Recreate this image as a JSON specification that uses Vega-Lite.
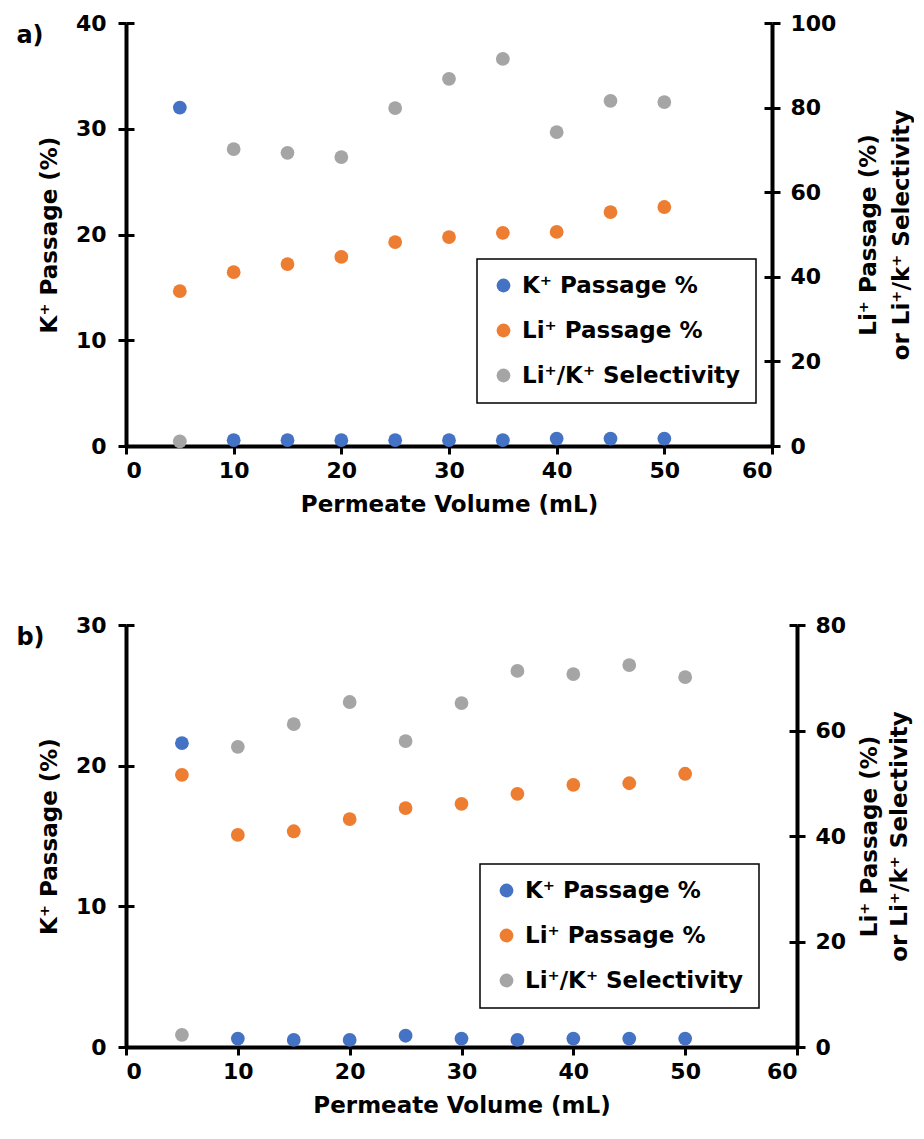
{
  "$schema": "https://vega.github.io/schema/vega-lite/v6.json",
  "background": "white",
  "padding": {"left": 16, "top": 12, "right": 0, "bottom": 5},
  "config": {
    "font": "DejaVu Sans",
    "view": {"stroke": null},
    "axis": {
      "domainColor": "black", "domainWidth": 4, "tickColor": "black", "tickWidth": 3, "tickSize": 8,
      "labelFont": "DejaVu Sans", "labelFontSize": 22, "labelFontWeight": "bold", "labelColor": "black",
      "titleFont": "DejaVu Sans", "titleFontSize": 23, "titleFontWeight": "bold", "titleColor": "black",
      "grid": false
    },
    "legend": {
      "title": null, "orient": "none", "strokeColor": "black", "strokeWidth": 1.5, "fillColor": "white",
      "padding": 15, "symbolType": "circle", "symbolSize": 190, "symbolStrokeWidth": 0, "symbolOpacity": 1,
      "labelFont": "DejaVu Sans", "labelFontSize": 23, "labelFontWeight": "bold", "labelColor": "black",
      "rowPadding": 21, "labelOffset": 7, "labelLimit": 400
    },
    "title": {"font": "DejaVu Sans", "fontSize": 24, "fontWeight": "bold", "color": "black", "anchor": "start", "frame": "bounds"}
  },
  "datasets": {
    "d": [
      {"p": "a", "s": "K⁺ Passage %", "x": 5, "v": 32.0},
      {"p": "a", "s": "K⁺ Passage %", "x": 10, "v": 0.55},
      {"p": "a", "s": "K⁺ Passage %", "x": 15, "v": 0.55},
      {"p": "a", "s": "K⁺ Passage %", "x": 20, "v": 0.55},
      {"p": "a", "s": "K⁺ Passage %", "x": 25, "v": 0.55},
      {"p": "a", "s": "K⁺ Passage %", "x": 30, "v": 0.55},
      {"p": "a", "s": "K⁺ Passage %", "x": 35, "v": 0.55},
      {"p": "a", "s": "K⁺ Passage %", "x": 40, "v": 0.7},
      {"p": "a", "s": "K⁺ Passage %", "x": 45, "v": 0.7},
      {"p": "a", "s": "K⁺ Passage %", "x": 50, "v": 0.7},
      {"p": "a", "s": "Li⁺ Passage %", "x": 5, "v": 36.6},
      {"p": "a", "s": "Li⁺ Passage %", "x": 10, "v": 41.1},
      {"p": "a", "s": "Li⁺ Passage %", "x": 15, "v": 43.0},
      {"p": "a", "s": "Li⁺ Passage %", "x": 20, "v": 44.7},
      {"p": "a", "s": "Li⁺ Passage %", "x": 25, "v": 48.2},
      {"p": "a", "s": "Li⁺ Passage %", "x": 30, "v": 49.4},
      {"p": "a", "s": "Li⁺ Passage %", "x": 35, "v": 50.4},
      {"p": "a", "s": "Li⁺ Passage %", "x": 40, "v": 50.6},
      {"p": "a", "s": "Li⁺ Passage %", "x": 45, "v": 55.3},
      {"p": "a", "s": "Li⁺ Passage %", "x": 50, "v": 56.5},
      {"p": "a", "s": "Li⁺/K⁺ Selectivity", "x": 5, "v": 1.1},
      {"p": "a", "s": "Li⁺/K⁺ Selectivity", "x": 10, "v": 70.2},
      {"p": "a", "s": "Li⁺/K⁺ Selectivity", "x": 15, "v": 69.3},
      {"p": "a", "s": "Li⁺/K⁺ Selectivity", "x": 20, "v": 68.3},
      {"p": "a", "s": "Li⁺/K⁺ Selectivity", "x": 25, "v": 79.9},
      {"p": "a", "s": "Li⁺/K⁺ Selectivity", "x": 30, "v": 86.8},
      {"p": "a", "s": "Li⁺/K⁺ Selectivity", "x": 35, "v": 91.5},
      {"p": "a", "s": "Li⁺/K⁺ Selectivity", "x": 40, "v": 74.2},
      {"p": "a", "s": "Li⁺/K⁺ Selectivity", "x": 45, "v": 81.6},
      {"p": "a", "s": "Li⁺/K⁺ Selectivity", "x": 50, "v": 81.3},
      {"p": "b", "s": "K⁺ Passage %", "x": 5, "v": 21.6},
      {"p": "b", "s": "K⁺ Passage %", "x": 10, "v": 0.6},
      {"p": "b", "s": "K⁺ Passage %", "x": 15, "v": 0.5},
      {"p": "b", "s": "K⁺ Passage %", "x": 20, "v": 0.5},
      {"p": "b", "s": "K⁺ Passage %", "x": 25, "v": 0.8},
      {"p": "b", "s": "K⁺ Passage %", "x": 30, "v": 0.6},
      {"p": "b", "s": "K⁺ Passage %", "x": 35, "v": 0.5},
      {"p": "b", "s": "K⁺ Passage %", "x": 40, "v": 0.6},
      {"p": "b", "s": "K⁺ Passage %", "x": 45, "v": 0.6},
      {"p": "b", "s": "K⁺ Passage %", "x": 50, "v": 0.6},
      {"p": "b", "s": "Li⁺ Passage %", "x": 5, "v": 51.6},
      {"p": "b", "s": "Li⁺ Passage %", "x": 10, "v": 40.2},
      {"p": "b", "s": "Li⁺ Passage %", "x": 15, "v": 40.9},
      {"p": "b", "s": "Li⁺ Passage %", "x": 20, "v": 43.2},
      {"p": "b", "s": "Li⁺ Passage %", "x": 25, "v": 45.3},
      {"p": "b", "s": "Li⁺ Passage %", "x": 30, "v": 46.1},
      {"p": "b", "s": "Li⁺ Passage %", "x": 35, "v": 48.0},
      {"p": "b", "s": "Li⁺ Passage %", "x": 40, "v": 49.7},
      {"p": "b", "s": "Li⁺ Passage %", "x": 45, "v": 50.0},
      {"p": "b", "s": "Li⁺ Passage %", "x": 50, "v": 51.8},
      {"p": "b", "s": "Li⁺/K⁺ Selectivity", "x": 5, "v": 2.3},
      {"p": "b", "s": "Li⁺/K⁺ Selectivity", "x": 10, "v": 56.9},
      {"p": "b", "s": "Li⁺/K⁺ Selectivity", "x": 15, "v": 61.2},
      {"p": "b", "s": "Li⁺/K⁺ Selectivity", "x": 20, "v": 65.4},
      {"p": "b", "s": "Li⁺/K⁺ Selectivity", "x": 25, "v": 58.0},
      {"p": "b", "s": "Li⁺/K⁺ Selectivity", "x": 30, "v": 65.2},
      {"p": "b", "s": "Li⁺/K⁺ Selectivity", "x": 35, "v": 71.3},
      {"p": "b", "s": "Li⁺/K⁺ Selectivity", "x": 40, "v": 70.7},
      {"p": "b", "s": "Li⁺/K⁺ Selectivity", "x": 45, "v": 72.4},
      {"p": "b", "s": "Li⁺/K⁺ Selectivity", "x": 50, "v": 70.1}
    ]
  },
  "spacing": 98,
  "resolve": {"scale": {"color": "independent"}, "legend": {"color": "independent"}},
  "vconcat": [
    {
      "width": 646, "height": 423,
      "title": {"text": "a)", "dx": -22, "dy": 40},
      "data": {"name": "d"},
      "transform": [{"filter": "datum.p === 'a'"}],
      "encoding": {
        "x": {"field": "x", "type": "quantitative", "scale": {"domain": [0, 60]},
              "axis": {"values": [0, 10, 20, 30, 40, 50, 60], "title": "Permeate Volume (mL)", "labelPadding": 6, "titlePadding": 12}},
        "color": {"field": "s", "type": "nominal",
                  "scale": {"domain": ["K⁺ Passage %", "Li⁺ Passage %", "Li⁺/K⁺ Selectivity"], "range": ["#4472C4", "#ED7D31", "#A5A5A5"]},
                  "legend": {"legendX": 351, "legendY": 236}}
      },
      "layer": [
        {"transform": [{"filter": "datum.s === 'K⁺ Passage %'"}],
         "mark": {"type": "circle", "size": 0, "opacity": 0},
         "encoding": {"y": {"field": "v", "type": "quantitative", "scale": {"domain": [0, 40]},
                            "axis": {"orient": "left", "values": [0, 10, 20, 30, 40], "tickSize": -8, "labels": false, "domain": false, "title": null}}}},
        {"transform": [{"filter": "datum.s !== 'K⁺ Passage %'"}],
         "mark": {"type": "circle", "size": 0, "opacity": 0},
         "encoding": {"y": {"field": "v", "type": "quantitative", "scale": {"domain": [0, 100]},
                            "axis": {"orient": "right", "values": [0, 20, 40, 60, 80, 100], "tickSize": -8, "labels": false, "domain": false, "title": null}}}},
        {"transform": [{"filter": "datum.s === 'K⁺ Passage %'"}],
         "mark": {"type": "circle", "size": 190, "opacity": 1},
         "encoding": {"y": {"field": "v", "type": "quantitative", "scale": {"domain": [0, 40]},
                            "axis": {"orient": "left", "values": [0, 10, 20, 30, 40], "title": "K⁺ Passage (%)", "labelPadding": 12, "titlePadding": 14}}}},
        {"transform": [{"filter": "datum.s !== 'K⁺ Passage %'"}],
         "mark": {"type": "circle", "size": 190, "opacity": 1},
         "encoding": {"y": {"field": "v", "type": "quantitative", "scale": {"domain": [0, 100]},
                            "axis": {"orient": "right", "values": [0, 20, 40, 60, 80, 100], "title": ["Li⁺ Passage (%)", "or Li⁺/k⁺ Selectivity"], "titleAngle": 270, "titleLineHeight": 33, "labelPadding": 10, "titlePadding": 12}}}}
      ],
      "resolve": {"scale": {"y": "independent"}}
    },
    {
      "width": 671, "height": 422,
      "title": {"text": "b)", "dx": -22, "dy": 40},
      "data": {"name": "d"},
      "transform": [{"filter": "datum.p === 'b'"}],
      "encoding": {
        "x": {"field": "x", "type": "quantitative", "scale": {"domain": [0, 60]},
              "axis": {"values": [0, 10, 20, 30, 40, 50, 60], "title": "Permeate Volume (mL)", "labelPadding": 6, "titlePadding": 12}},
        "color": {"field": "s", "type": "nominal",
                  "scale": {"domain": ["K⁺ Passage %", "Li⁺ Passage %", "Li⁺/K⁺ Selectivity"], "range": ["#4472C4", "#ED7D31", "#A5A5A5"]},
                  "legend": {"legendX": 354, "legendY": 239}}
      },
      "layer": [
        {"transform": [{"filter": "datum.s === 'K⁺ Passage %'"}],
         "mark": {"type": "circle", "size": 0, "opacity": 0},
         "encoding": {"y": {"field": "v", "type": "quantitative", "scale": {"domain": [0, 30]},
                            "axis": {"orient": "left", "values": [0, 10, 20, 30], "tickSize": -8, "labels": false, "domain": false, "title": null}}}},
        {"transform": [{"filter": "datum.s !== 'K⁺ Passage %'"}],
         "mark": {"type": "circle", "size": 0, "opacity": 0},
         "encoding": {"y": {"field": "v", "type": "quantitative", "scale": {"domain": [0, 80]},
                            "axis": {"orient": "right", "values": [0, 20, 40, 60, 80], "tickSize": -8, "labels": false, "domain": false, "title": null}}}},
        {"transform": [{"filter": "datum.s === 'K⁺ Passage %'"}],
         "mark": {"type": "circle", "size": 190, "opacity": 1},
         "encoding": {"y": {"field": "v", "type": "quantitative", "scale": {"domain": [0, 30]},
                            "axis": {"orient": "left", "values": [0, 10, 20, 30], "title": "K⁺ Passage (%)", "labelPadding": 12, "titlePadding": 14}}}},
        {"transform": [{"filter": "datum.s !== 'K⁺ Passage %'"}],
         "mark": {"type": "circle", "size": 190, "opacity": 1},
         "encoding": {"y": {"field": "v", "type": "quantitative", "scale": {"domain": [0, 80]},
                            "axis": {"orient": "right", "values": [0, 20, 40, 60, 80], "title": ["Li⁺ Passage (%)", "or Li⁺/k⁺ Selectivity"], "titleAngle": 270, "titleLineHeight": 30, "labelPadding": 10, "titlePadding": 6}}}}
      ],
      "resolve": {"scale": {"y": "independent"}}
    }
  ]
}
